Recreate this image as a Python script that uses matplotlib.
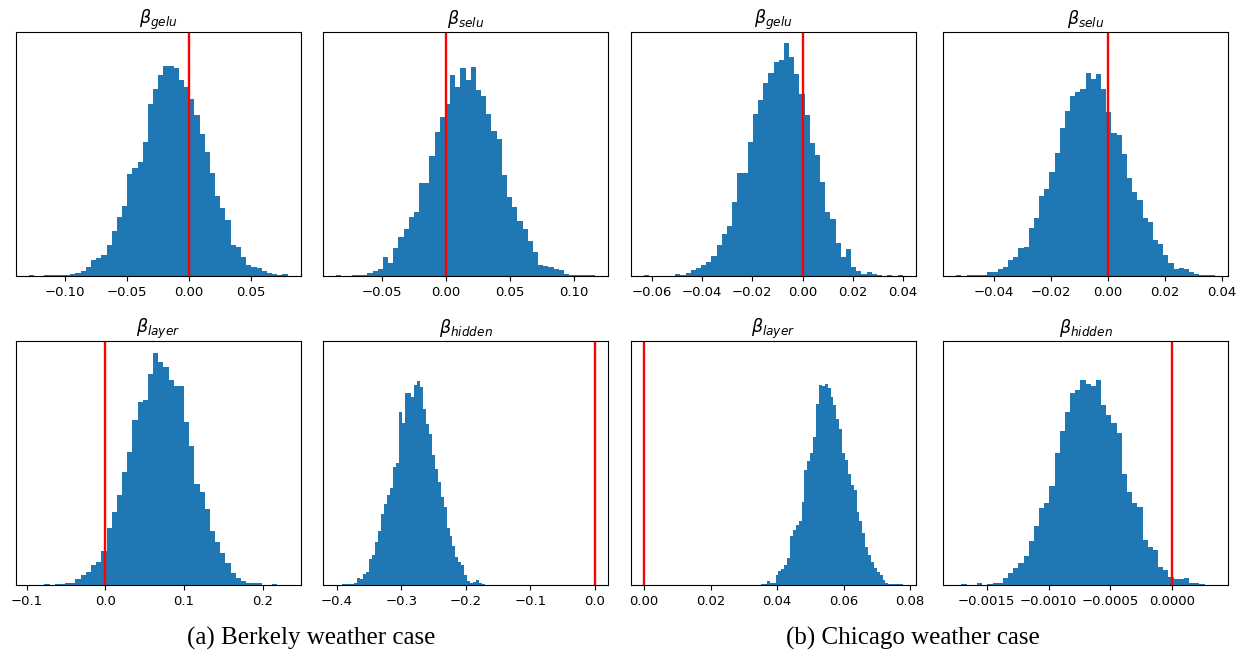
import numpy as np
import matplotlib.pyplot as plt

# Posterior samples of the activation coefficients, binned into 50 bins.
# Each panel: bin counts plus the (min, max) range the bins cover.
berkeley_gelu = [3, 0.5, 1, 2, 2, 2, 2, 3, 6, 10,
                 16, 28, 48, 53, 63, 93, 136, 178, 211, 306,
                 325, 341, 403, 516, 560, 603, 631, 631, 625, 588,
                 568, 532, 483, 426, 371, 308, 240, 203, 168, 93,
                 86, 58, 33, 28, 23, 16, 8, 6, 2, 6]
berkeley_gelu_range = (-0.129, 0.0798)

berkeley_selu = [2, 1, 1, 4, 4, 3, 8, 14, 22, 56,
                 38, 83, 116, 142, 178, 192, 278, 280, 360, 433,
                 478, 516, 603, 566, 625, 588, 628, 558, 541, 485,
                 436, 410, 303, 238, 208, 166, 142, 106, 71, 33,
                 31, 26, 20, 18, 6, 3, 2, 2, 2, 2]
berkeley_selu_range = (-0.0855, 0.1165)

chicago_gelu = [3, 0, 0, 0, 0, 1, 6, 3, 8, 18,
                23, 33, 43, 60, 93, 126, 150, 223, 308, 308,
                403, 485, 528, 580, 610, 643, 648, 698, 656, 606,
                546, 483, 398, 363, 283, 193, 170, 100, 58, 80,
                28, 16, 6, 13, 5, 2, 1, 2, 1, 2]
chicago_gelu_range = (-0.0630, 0.0399)

chicago_selu = [2, 1, 2, 2, 4, 2, 13, 13, 20, 28,
                48, 56, 83, 88, 145, 173, 240, 260, 313, 370,
                443, 495, 540, 553, 560, 610, 590, 606, 560, 493,
                428, 423, 366, 293, 253, 228, 173, 163, 108, 96,
                63, 38, 20, 23, 20, 13, 6, 3, 3, 2]
chicago_selu_range = (-0.0531, 0.0376)

berkeley_layer = [0, 0, 1, 3, 1, 4, 4, 6, 8, 18,
                  31, 39, 61, 71, 104, 171, 221, 271, 341, 401,
                  496, 548, 556, 634, 696, 668, 654, 616, 598, 596,
                  491, 418, 304, 281, 228, 164, 131, 96, 68, 36,
                  23, 14, 8, 6, 6, 2, 1, 4, 0, 1]
berkeley_layer_range = (-0.0971, 0.2317)

berkeley_hidden = [1, 2, 4, 4, 4, 5, 8, 23, 20, 34,
                   39, 79, 92, 129, 163, 215, 245, 270, 293, 355,
                   367, 520, 488, 577, 575, 565, 600, 612, 593, 530,
                   485, 455, 390, 350, 310, 265, 235, 173, 147, 117,
                   85, 70, 60, 30, 13, 7, 10, 15, 7, 3]
berkeley_hidden_range = (-0.4006, -0.1699)

chicago_layer = [2, 3, 3, 13, 8, 8, 30, 42, 50, 60,
                 82, 147, 165, 180, 193, 250, 345, 372, 397, 445,
                 542, 600, 598, 602, 590, 565, 540, 498, 470, 398,
                 375, 335, 300, 285, 220, 192, 158, 115, 90, 70,
                 52, 40, 30, 15, 8, 3, 5, 3, 3, 3]
chicago_layer_range = (0.0343, 0.0778)

chicago_hidden = [1, 4, 1, 1, 6, 2, 5, 6, 6, 23,
                  38, 53, 66, 88, 134, 178, 231, 248, 299, 396,
                  464, 521, 576, 586, 616, 604, 596, 614, 539, 511,
                  486, 456, 334, 281, 248, 236, 136, 116, 106, 56,
                  46, 24, 20, 18, 21, 8, 6, 4, 0, 1]
chicago_hidden_range = (-0.0017464, 0.000346)

panels = [
    ('gelu', berkeley_gelu, berkeley_gelu_range),
    ('selu', berkeley_selu, berkeley_selu_range),
    ('gelu', chicago_gelu, chicago_gelu_range),
    ('selu', chicago_selu, chicago_selu_range),
    ('layer', berkeley_layer, berkeley_layer_range),
    ('hidden', berkeley_hidden, berkeley_hidden_range),
    ('layer', chicago_layer, chicago_layer_range),
    ('hidden', chicago_hidden, chicago_hidden_range),
]

fig = plt.figure(figsize=(12.49, 6.62), dpi=100)

lefts = [0.0128, 0.2589, 0.5054, 0.7553]
bottoms = [0.5831, 0.1159]
w, h = 0.2278, 0.3683

for k, (name, counts, (lo, hi)) in enumerate(panels):
    ax = fig.add_axes([lefts[k % 4], bottoms[k // 4], w, h])
    edges = np.linspace(lo, hi, len(counts) + 1)
    ax.hist(edges[:-1], bins=edges, weights=counts, color='#1f77b4')
    ax.axvline(0, color='red', lw=1.7)
    # keep the zero line in view
    x0, x1 = min(lo, 0), max(hi, 0)
    pad = 0.05 * (x1 - x0)
    ax.set_xlim(x0 - pad, x1 + pad)
    ax.set_ylim(0, 731)
    ax.set_yticks([])
    ax.set_title(r'$\beta_{%s}$' % name, fontsize=12.5)
    ax.tick_params(labelsize=9.5)

fig.text(0.249, 0.036, '(a) Berkely weather case', ha='center', va='center',
         family='Liberation Serif', fontsize=18)
fig.text(0.731, 0.036, '(b) Chicago weather case', ha='center', va='center',
         family='Liberation Serif', fontsize=18)

fig.savefig('out.png', dpi=100)
